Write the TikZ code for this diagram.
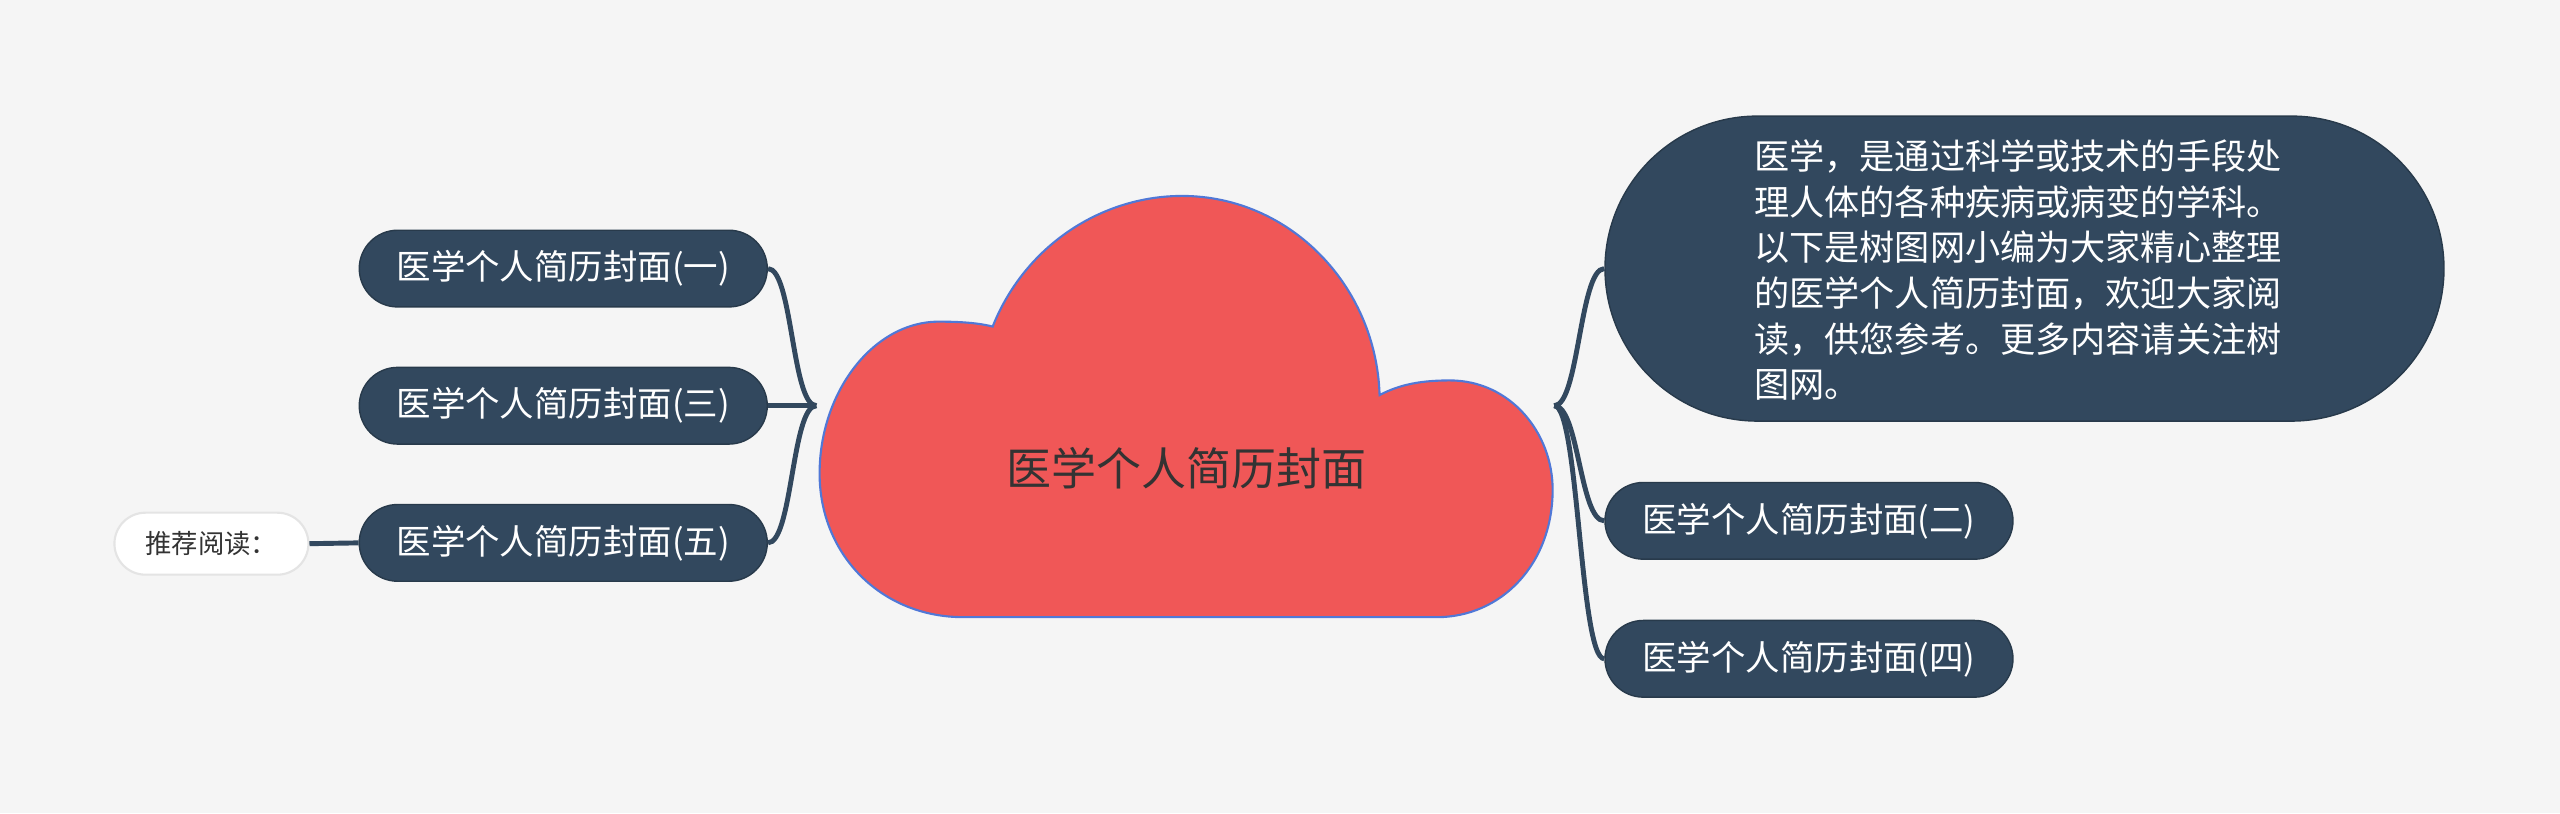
\documentclass[tikz,border=0pt]{standalone}
\usepackage{fontspec}
\setmainfont{Noto Sans CJK SC}
\usetikzlibrary{shapes.misc}
\definecolor{bg}{RGB}{245,245,245}
\definecolor{navy}{RGB}{50,72,94}
\definecolor{cloudred}{RGB}{240,87,87}
\definecolor{cloudline}{RGB}{80,120,215}
\definecolor{recline}{RGB}{228,228,228}
\definecolor{darktext}{RGB}{51,51,51}
\tikzset{
  leaf/.style={rounded rectangle, fill=navy, draw=navy!80!black, line width=0.4pt, text=white,
    minimum width=4.08cm, minimum height=0.767cm, inner sep=0pt,
    font=\fontsize{9.8pt}{12pt}\selectfont},
  descbox/.style={rounded rectangle, fill=navy, draw=navy!80!black, line width=0.4pt,
    minimum width=8.39cm, minimum height=3.05cm, inner sep=0pt},
  desctext/.style={text=white, inner sep=0pt, align=left,
    font=\fontsize{10pt}{13pt}\selectfont},
  recbox/.style={rounded rectangle, fill=white, draw=recline, line width=0.6pt, text=darktext,
    minimum width=1.94cm, minimum height=0.62cm, inner sep=0pt,
    font=\fontsize{7.5pt}{9pt}\selectfont},
  conn/.style={draw=navy, line width=1.4pt},
}
\begin{document}
\begin{tikzpicture}[x=0.016327cm, y=-0.016327cm]
\fill[bg] (0,0) rectangle (1568,498);
\useasboundingbox (0,0) rectangle (1568,498);
% cloud
\path[fill=cloudred, draw=cloudline, line width=0.6pt]
  (590,378) .. controls (540,378) and (502,340) .. (502,290)
  .. controls (502,240) and (535,197) .. (575,197)
  .. controls (590,197) and (600,198) .. (608,200)
  .. controls (628,150) and (675,120) .. (724,120)
  .. controls (790,120) and (843,175) .. (845,242)
  .. controls (858,235) and (872,233) .. (888,233)
  .. controls (925,233) and (951,265) .. (951,300)
  .. controls (951,345) and (920,378) .. (880,378)
  -- cycle;
\node[text=darktext, font=\fontsize{12.8pt}{15pt}\selectfont] (root) at (727,287) {医学个人简历封面};
\coordinate (lroot) at (500,248.5);
\coordinate (rroot) at (952,248.5);
% left
\node[leaf] (n1) at (345,164.5) {医学个人简历封面(一)};
\node[leaf] (n3) at (345,248.5) {医学个人简历封面(三)};
\node[leaf] (n5) at (345,332.5) {医学个人简历封面(五)};
\node[recbox] (rec) at (129.5,333) {推荐阅读：};
% right
\node[descbox] (desc) at (1240,164.5) {};
\node[desctext] (desctxt) at (1236,165.5) {医学，是通过科学或技术的手段处\\理人体的各种疾病或病变的学科。\\以下是树图网小编为大家精心整理\\的医学个人简历封面，欢迎大家阅\\读，供您参考。更多内容请关注树\\图网。};
\node[leaf] (n2) at (1108,319) {医学个人简历封面(二)};
\node[leaf] (n4) at (1108,403.5) {医学个人简历封面(四)};
% connectors
\draw[conn] (n1.east) .. controls +(15,0) and +(-15,0) .. (lroot);
\draw[conn] (n3.east) -- (lroot);
\draw[conn] (n5.east) .. controls +(15,0) and +(-15,0) .. (lroot);
\draw[conn] (rroot) .. controls +(15,0) and +(-15,0) .. (desc.west);
\draw[conn] (rroot) .. controls +(15,0) and +(-15,0) .. (n2.west);
\draw[conn] (rroot) .. controls +(15,0) and +(-15,0) .. (n4.west);
\draw[conn] (rec.east) -- (n5.west);
\end{tikzpicture}
\end{document}
